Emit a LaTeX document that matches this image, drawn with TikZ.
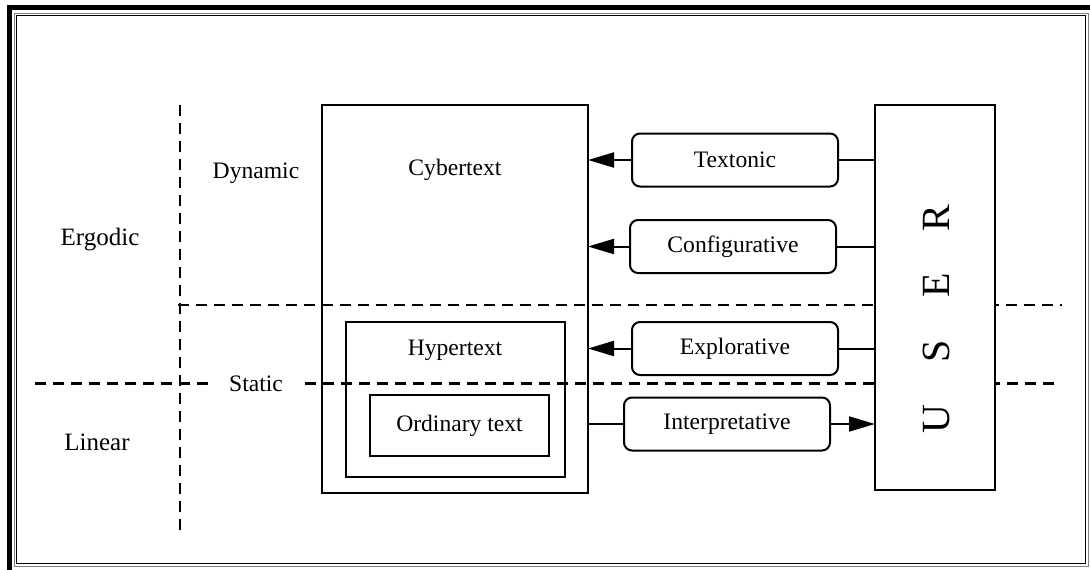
\documentclass[tikz,border=0pt]{standalone}
\usepackage{fontspec}
\setmainfont{Liberation Serif}
\usetikzlibrary{arrows.meta}
\begin{document}
\begin{tikzpicture}[x=1pt,y=-1pt,line width=2pt,
  lbl/.style={font=\fontsize{23.6}{28}\selectfont, inner sep=0pt},
  sidelbl/.style={font=\fontsize{25}{30}\selectfont, inner sep=0pt},
  frame/.style={draw, outer sep=0pt, inner sep=0pt},
  modebox/.style={draw, rounded corners=8pt, outer sep=0pt, inner sep=0pt,
    minimum width=206pt, minimum height=53pt, font=\fontsize{23.6}{28}\selectfont},
  divider/.style={line width=2.8pt, dash pattern=on 11pt off 7pt},
  flow/.style={-{Triangle[length=26pt,width=15pt]}}
]
\useasboundingbox (0,0) rectangle (1090,570);

% page frame
\fill (7,5) rectangle (1090,10);
\fill (7,5) rectangle (12,570);
\draw[gray, line width=1pt] (14,13) rectangle (1088,566.5);
\draw[line width=1.5pt] (16.5,15.5) rectangle (1085.5,563.5);

% axes of the typology
\coordinate (vtop) at (180,105);
\coordinate (vbot) at (180,530);
\coordinate (h1l) at (178,305);
\coordinate (h1r) at (1062,305);
\coordinate (h2l) at (35,383.5);
\coordinate (h2r) at (1055,383.5);
\draw[divider] (vtop) -- (vbot);
\draw[divider] (h1l) -- (h1r);
\draw[divider] (h2l) -- (h2r);

% side labels
\node[sidelbl] (ergodic) at (100,240) {Ergodic};
\node[sidelbl] (linear) at (97,442) {Linear};
\node[lbl] (dynamic) at (256,173) {Dynamic};
\node[lbl, fill=white, inner xsep=21pt, inner ysep=2pt] (static) at (256,383.5) {Static};

% nested text types
\node[frame, minimum width=266pt, minimum height=388pt] (cyber) at (455,299) {};
\node[lbl] (cyberlbl) at (455,170) {Cybertext};
\node[frame, minimum width=219pt, minimum height=155pt] (hyper) at (455.5,399.5) {};
\node[lbl] (hyperlbl) at (455,350) {Hypertext};
\node[frame, minimum width=179pt, minimum height=61pt, font=\fontsize{23.6}{28}\selectfont] (ordinary) at (459.5,425.5) {Ordinary text};

% user
\node[frame, fill=white, minimum width=120pt, minimum height=385pt] (user) at (935,297.5) {};
\node[rotate=90, inner sep=0pt, font=\fontsize{40}{48}\selectfont] (userlbl) at (936,319) {U\hskip 1.06em S\hskip 1.06em E\hskip 1.06em R};

% user functions
\node[modebox] (textonic) at (735,160) {Textonic};
\node[modebox] (config) at (733,246.5) {Configurative};
\node[modebox] (explor) at (735,348.5) {Explorative};
\node[modebox] (interp) at (727,424) {Interpretative};

\draw[flow] (textonic.west) -- (textonic.west -| cyber.east);
\draw (textonic.east) -- (textonic.east -| user.west);
\draw[flow] (config.west) -- (config.west -| cyber.east);
\draw (config.east) -- (config.east -| user.west);
\draw[flow] (explor.west) -- (explor.west -| cyber.east);
\draw (explor.east) -- (explor.east -| user.west);
\draw (interp.west -| cyber.east) -- (interp.west);
\draw[flow] (interp.east) -- (interp.east -| user.west);
\end{tikzpicture}
\end{document}
